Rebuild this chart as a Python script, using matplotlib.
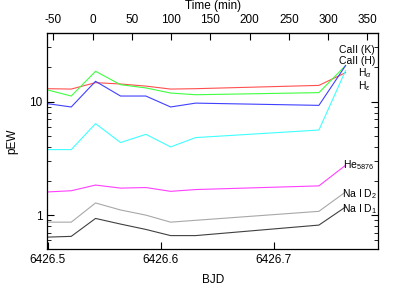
import numpy as np
import matplotlib
matplotlib.use("Agg")
import matplotlib.pyplot as plt
from matplotlib.ticker import FixedLocator, NullFormatter

plt.rcParams["font.family"] = ["Liberation Sans", "DejaVu Sans"]
plt.rcParams["mathtext.fontset"] = "custom"
plt.rcParams["mathtext.rm"] = "Liberation Sans"
plt.rcParams["mathtext.it"] = "Liberation Sans:italic"
plt.rcParams["axes.unicode_minus"] = False

# Observation epochs (BJD - 2450000)
bjd = [6426.4995, 6426.5207, 6426.5422, 6426.5643, 6426.5867,
       6426.6086, 6426.6307, 6426.7398, 6426.7634]
t0 = 6426.5396   # zero point of the time axis

# pseudo equivalent widths
ca_k   = [13.0, 12.9, 14.7, 14.3, 13.7, 12.9, 13.0, 13.9, 18.0]
ca_h   = [12.7, 11.2, 18.5, 14.1, 13.2, 11.9, 11.5, 12.0, 20.8]
h_alp  = [9.6, 8.97, 15.1, 11.2, 11.2, 8.97, 9.7, 9.27, 20.8]
h_eps  = [3.78, 3.78, 6.4, 4.36, 5.15, 3.99, 4.82, 5.62, 18.8]
he5876 = [1.60, 1.64, 1.84, 1.73, 1.75, 1.62, 1.68, 1.81, 2.75]
na_d2  = [0.867, 0.867, 1.28, 1.11, 1.0, 0.867, 0.90, 1.08, 1.60]
na_d1  = [0.64, 0.65, 0.935, 0.834, 0.748, 0.66, 0.66, 0.817, 1.18]

fig = plt.figure(figsize = (3.99, 2.85), dpi = 100)
ax = fig.add_axes([0.1185, 0.1253, 0.8301, 0.7579])

lw = 0.8
ax.plot(bjd, ca_k,   color = "#ff5050", lw = lw)
ax.plot(bjd, ca_h,   color = "#40ff40", lw = lw)
ax.plot(bjd, h_alp,  color = "#4040ff", lw = lw)
ax.plot(bjd, h_eps,  color = "#40ffff", lw = lw)
ax.plot(bjd, he5876, color = "#ff40ff", lw = lw)
ax.plot(bjd, na_d2,  color = "#a8a8a8", lw = lw)
ax.plot(bjd, na_d1,  color = "#404040", lw = lw)

ax.set_yscale("log")
ax.set_ylim(0.5, 40)
ax.set_xlim(bjd[0], 6426.7925)

# ticks
ax.set_xticks([6426.5, 6426.6, 6426.7])
ax.set_xticklabels(["6426.5", "6426.6", "6426.7"])
ax.yaxis.set_major_locator(FixedLocator([1, 10]))
ax.set_yticklabels(["1", "10"])
minors = [0.5, 0.6, 0.7, 0.8, 0.9, 2, 3, 4, 5, 6, 7, 8, 9, 20, 30, 40]
ax.yaxis.set_minor_locator(FixedLocator(minors))
ax.yaxis.set_minor_formatter(NullFormatter())
ax.tick_params(which = "both", direction = "in", labelsize = 8.5, right = True, top = False)
ax.tick_params(which = "major", length = 5)
ax.tick_params(which = "minor", length = 3)

ax.set_xlabel("BJD", fontsize = 8.5, labelpad = 6)
ax.set_ylabel("pEW", fontsize = 8.5, labelpad = 8)

# top axis: minutes since t0
top = ax.secondary_xaxis("top", functions = (lambda b: (b - t0) * 1440.0,
                                             lambda m: m / 1440.0 + t0))
top.set_xticks([-50, 0, 50, 100, 150, 200, 250, 300, 350])
top.tick_params(direction = "in", labelsize = 8.5, length = 5, pad = 5)
top.set_xlabel("Time (min)", fontsize = 8.5, labelpad = 4)

for s in ax.spines.values():
    s.set_linewidth(0.9)

# line labels
fs = 7.5
ax.text(0.99, 0.924, "CaII (K)", transform = ax.transAxes, ha = "right", va = "center", fontsize = fs)
ax.text(0.99, 0.873, "CaII (H)", transform = ax.transAxes, ha = "right", va = "center", fontsize = fs)
ax.text(0.938, 0.814, r"H$_\alpha$", transform = ax.transAxes, ha = "left", va = "center", fontsize = fs)
ax.text(0.938, 0.756, r"H$_\epsilon$", transform = ax.transAxes, ha = "left", va = "center", fontsize = fs)
ax.text(0.894, 0.390, r"He$_{5876}$", transform = ax.transAxes, ha = "left", va = "center", fontsize = fs)
ax.text(0.891, 0.256, r"Na I D$_2$", transform = ax.transAxes, ha = "left", va = "center", fontsize = fs)
ax.text(0.891, 0.187, r"Na I D$_1$", transform = ax.transAxes, ha = "left", va = "center", fontsize = fs)

fig.savefig("out.png", dpi = 100)
